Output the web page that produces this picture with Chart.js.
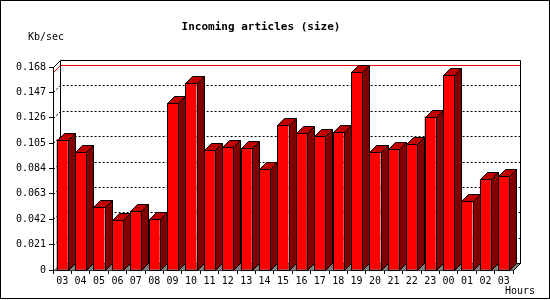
<!DOCTYPE html>
<html>
<head>
<meta charset="utf-8">
<script src="https://cdn.jsdelivr.net/npm/chart.js@4/dist/chart.umd.min.js"></script>
<style>
  html, body { margin: 0; padding: 0; background: #fff; }
  canvas { display: block; }
</style>
</head>
<body>
<canvas id="chart" width="550" height="300"></canvas>
<script>
const hours = ['03', '04', '05', '06', '07', '08', '09', '10', '11', '12', '13', '14', '15',
               '16', '17', '18', '19', '20', '21', '22', '23', '00', '01', '02', '03'];
const kbPerSec = [0.108, 0.098, 0.052, 0.041, 0.049, 0.042, 0.138, 0.155, 0.099, 0.102, 0.101, 0.084, 0.120,
                  0.113, 0.111, 0.114, 0.164, 0.098, 0.100, 0.104, 0.127, 0.161, 0.057, 0.075, 0.078];
const yTicks = [0, 0.021, 0.042, 0.063, 0.084, 0.105, 0.126, 0.147, 0.168];

const DEPTH = 7;
const MONO = '"DejaVu Sans Mono", "Liberation Mono", monospace';

// draws the walls, floor and the 3d top/side of every bar
const box3d = {
    id: 'box3d',
    beforeDraw(chart) {
        const ctx = chart.ctx;
        ctx.save();
        ctx.fillStyle = '#fff';
        ctx.fillRect(0, 0, chart.width, chart.height);
        ctx.restore();
    },
    beforeDatasetsDraw(chart) {
        const { ctx, chartArea: a, scales: { y } } = chart;
        const L = a.left + 0.5, R = a.right + 0.5, T = a.top + 0.5, B = a.bottom + 0.5, d = DEPTH;
        ctx.save();
        ctx.lineWidth = 1;

        // floor
        ctx.fillStyle = '#808080';
        ctx.beginPath();
        ctx.moveTo(L, B);
        ctx.lineTo(L + d, B - d);
        ctx.lineTo(R + d, B - d);
        ctx.lineTo(R, B);
        ctx.closePath();
        ctx.fill();

        // dotted grid on the back wall
        ctx.strokeStyle = '#000';
        ctx.setLineDash([2, 2]);
        yTicks.forEach(v => {
            if (v === 0 || v === y.max) return;
            const py = Math.round(y.getPixelForValue(v)) + 0.5;
            ctx.beginPath();
            ctx.moveTo(L, py);
            ctx.lineTo(L + d, py - d);
            ctx.lineTo(R + d, py - d);
            ctx.stroke();
        });
        ctx.setLineDash([]);

        // peak line
        const peak = Math.max(...kbPerSec);
        const pp = Math.round(y.getPixelForValue(peak)) + 0.5;
        ctx.strokeStyle = '#ff0000';
        ctx.beginPath();
        ctx.moveTo(L, pp);
        ctx.lineTo(L + d, pp - d);
        ctx.lineTo(R + d, pp - d);
        ctx.stroke();

        // wall outlines
        ctx.strokeStyle = '#000';
        ctx.beginPath();
        ctx.moveTo(L, T);
        ctx.lineTo(L + d, T - d);
        ctx.lineTo(R + d, T - d);
        ctx.lineTo(R + d, B - d);
        ctx.lineTo(R, B);
        ctx.moveTo(L + d, T - d);
        ctx.lineTo(L + d, B - d);
        ctx.lineTo(R + d, B - d);
        ctx.stroke();
        ctx.restore();
    },
    afterDatasetsDraw(chart) {
        const ctx = chart.ctx;
        const d = DEPTH;
        const bars = chart.getDatasetMeta(0).data;
        ctx.save();
        ctx.lineWidth = 1;
        ctx.strokeStyle = '#000';
        bars.forEach(bar => {
            const { x, y, base, width } = bar.getProps(['x', 'y', 'base', 'width'], true);
            const l = Math.round(x - width / 2) + 0.5;
            const r = Math.round(x + width / 2) + 0.5;
            const t = Math.round(y) + 0.5;
            const b = Math.round(base) + 0.5;

            ctx.fillStyle = '#c00000';
            ctx.beginPath();
            ctx.moveTo(l, t);
            ctx.lineTo(l + d, t - d);
            ctx.lineTo(r + d, t - d);
            ctx.lineTo(r, t);
            ctx.closePath();
            ctx.fill();
            ctx.stroke();

            ctx.fillStyle = '#800000';
            ctx.beginPath();
            ctx.moveTo(r, t);
            ctx.lineTo(r + d, t - d);
            ctx.lineTo(r + d, b - d);
            ctx.lineTo(r, b);
            ctx.closePath();
            ctx.fill();
            ctx.stroke();

            ctx.strokeRect(l, t, r - l, b - t);
        });
        ctx.restore();
    },
    afterDraw(chart) {
        const ctx = chart.ctx;
        ctx.save();
        ctx.fillStyle = '#000';
        ctx.textBaseline = 'middle';

        ctx.font = 'bold 11px ' + MONO;
        ctx.textAlign = 'center';
        ctx.fillText('Incoming articles (size)', 261, 27);

        ctx.font = '10px ' + MONO;
        ctx.textAlign = 'left';
        ctx.fillText('Kb/sec', 28, 37);
        ctx.textAlign = 'right';
        ctx.fillText('Hours', 535, 291);

        ctx.strokeStyle = '#000';
        ctx.lineWidth = 1;
        ctx.strokeRect(0.5, 0.5, 549, 298);
        ctx.restore();
    }
};

new Chart(document.getElementById('chart'), {
    type: 'bar',
    data: {
        labels: hours,
        datasets: [{
            data: kbPerSec,
            backgroundColor: '#ff0000',
            borderWidth: 0,
            barPercentage: 0.6,
            categoryPercentage: 1.0
        }]
    },
    options: {
        responsive: false,
        animation: false,
        events: [],
        layout: { padding: { top: 67, right: 37, bottom: 0, left: 0 } },
        plugins: {
            legend: { display: false },
            tooltip: { enabled: false },
            title: { display: false }
        },
        scales: {
            x: {
                grid: { display: true, drawOnChartArea: false, tickLength: 4, color: '#000', offset: true },
                border: { display: true, color: '#000' },
                ticks: {
                    color: '#000',
                    font: { family: MONO, size: 10 },
                    maxRotation: 0,
                    autoSkip: false,
                    padding: 1
                },
                afterFit: scale => { scale.height = 30; }
            },
            y: {
                min: 0,
                max: 0.168,
                grid: { display: true, drawOnChartArea: false, tickLength: 4, color: '#000' },
                border: { display: true, color: '#000' },
                ticks: {
                    color: '#000',
                    font: { family: MONO, size: 10 },
                    padding: 3,
                    callback: v => v === 0 ? '0' : v.toFixed(3)
                },
                afterBuildTicks: scale => { scale.ticks = yTicks.map(v => ({ value: v })); },
                afterFit: scale => { scale.width = 53; }
            }
        }
    },
    plugins: [box3d]
});
</script>
</body>
</html>
